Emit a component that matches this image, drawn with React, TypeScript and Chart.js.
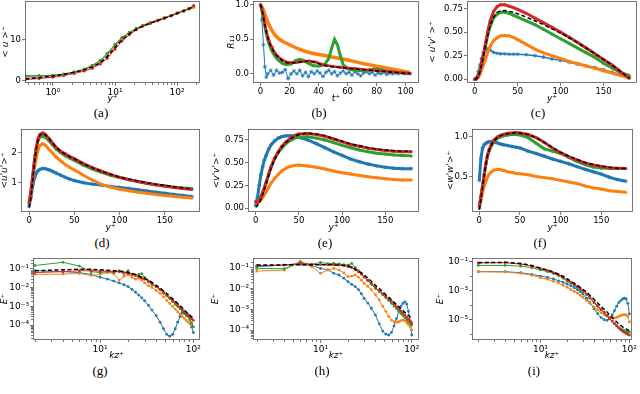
import React, { useEffect, useRef } from "react";
import { Chart, registerables } from "chart.js";

Chart.register(...registerables);
Chart.defaults.font.family = "'DejaVu Sans', sans-serif";

const BLUE = "#1f77b4";
const ORANGE = "#ff7f0e";
const GREEN = "#2ca02c";
const RED = "#d62728";
const BLACK = "#000000";

// ---------------- (a) mean velocity ----------------
const aYPlus = [0.36, 0.6, 1.0, 1.5, 2.2, 3.2, 4.3, 5.8, 7.5, 10, 13, 17, 22, 28, 37, 48, 62, 80, 100, 128, 155, 185];
const aBlack = [0.4, 0.7, 1.1, 1.5, 2.0, 2.6, 3.3, 4.3, 5.8, 8.0, 9.9, 11.3, 12.4, 13.2, 13.9, 14.5, 15.1, 15.7, 16.3, 16.9, 17.4, 17.9];
const aGreen = [1.2, 1.2, 1.3, 1.6, 2.1, 2.8, 3.7, 4.9, 6.6, 8.8, 10.5, 11.7, 12.7, 13.4, 14.0, 14.6, 15.2, 15.8, 16.4, 17.0, 17.5, 18.0];
const aRed = [0.2, 0.5, 0.8, 1.2, 1.7, 2.3, 3.0, 4.0, 5.4, 7.6, 9.6, 11.1, 12.3, 13.2, 13.9, 14.5, 15.1, 15.7, 16.3, 16.9, 17.5, 18.2];
const aBlue = [1.0, 1.1, 1.2, 1.5, 2.0, 2.7, 3.6, 4.8, 6.4, 8.6, 10.3, 11.5, 12.5, 13.3, 13.9, 14.5, 15.1, 15.7, 16.3, 16.9, 17.4, 17.9];
const aOrange = [0.6, 0.8, 1.1, 1.5, 2.0, 2.6, 3.4, 4.5, 6.1, 8.3, 10.2, 11.5, 12.6, 13.4, 14.1, 14.7, 15.3, 15.8, 16.4, 16.9, 17.3, 17.7];

// ---------------- (b) autocorrelation R11 ----------------
const bT = [0, 1, 2, 3, 4, 5, 6, 8, 10, 12, 15, 18, 21, 25, 30, 34, 38, 42, 46, 50, 55, 60, 65, 70, 75, 80, 85, 90, 95, 100, 103];
const bBlack = [1.0, 0.93, 0.82, 0.7, 0.6, 0.52, 0.45, 0.36, 0.29, 0.24, 0.19, 0.16, 0.155, 0.16, 0.18, 0.18, 0.16, 0.13, 0.11, 0.1, 0.09, 0.08, 0.07, 0.06, 0.05, 0.04, 0.035, 0.025, 0.015, 0.008, 0.005];
const bRed = [1.0, 0.93, 0.83, 0.72, 0.62, 0.54, 0.47, 0.38, 0.3, 0.25, 0.2, 0.17, 0.16, 0.165, 0.18, 0.185, 0.17, 0.14, 0.12, 0.105, 0.095, 0.085, 0.075, 0.065, 0.055, 0.045, 0.038, 0.028, 0.018, 0.01, 0.005];
const bGreenT = [0, 1, 2, 3, 4, 5, 6, 8, 10, 12, 15, 18, 21, 24, 27, 30, 33, 36, 40, 44, 47, 49, 51, 53, 55, 57, 60, 65, 70, 75, 78, 80, 83, 86, 90, 95, 100, 103];
const bGreen = [1.0, 0.92, 0.8, 0.68, 0.58, 0.49, 0.42, 0.32, 0.25, 0.2, 0.15, 0.13, 0.14, 0.19, 0.21, 0.19, 0.15, 0.12, 0.11, 0.13, 0.22, 0.37, 0.5, 0.42, 0.26, 0.13, 0.07, 0.05, 0.045, 0.05, 0.07, 0.07, 0.06, 0.04, 0.03, 0.02, 0.01, 0.005];
const bOrangeT = [0, 1, 2, 3, 4, 6, 8, 10, 13, 16, 20, 25, 30, 35, 40, 45, 50, 55, 60, 65, 70, 75, 80, 85, 90, 95, 100, 103];
const bOrange = [1.0, 0.97, 0.92, 0.86, 0.8, 0.7, 0.62, 0.56, 0.5, 0.46, 0.42, 0.37, 0.33, 0.3, 0.28, 0.26, 0.24, 0.22, 0.2, 0.175, 0.15, 0.13, 0.11, 0.09, 0.07, 0.05, 0.03, 0.02];
const bBlueT = [0, 1, 2, 3, 4, 5, 7, 9, 11, 13, 15, 17, 19, 21, 23, 25, 27, 29, 31, 33, 35, 37, 39, 41, 43, 45, 47, 49, 51, 53, 55, 57, 59, 61, 63, 65, 67, 69, 71, 73, 75, 77, 79, 81, 83, 85, 87, 89, 91, 93, 95, 97, 99, 101, 103];
const bBlue = [1.0, 0.78, 0.42, 0.1, -0.05, 0.0, 0.05, -0.02, 0.05, 0.01, 0.02, 0.06, -0.07, 0.0, 0.04, 0.0, 0.05, -0.03, 0.02, -0.04, 0.03, 0.0, 0.04, 0.01, -0.04, 0.02, 0.05, 0.0, 0.03, -0.03, 0.01, 0.04, 0.0, 0.02, -0.02, 0.03, 0.0, -0.03, 0.01, 0.03, 0.0, 0.02, -0.02, 0.01, 0.0, 0.02, -0.01, 0.01, 0.0, 0.01, 0.0, 0.01, 0.0, 0.005, 0.0];

// ---------------- (c)-(f) Reynolds stresses vs y+ ----------------
const yPlus = [0, 2, 4, 6, 8, 10, 12, 15, 18, 22, 26, 30, 35, 40, 45, 50, 60, 70, 80, 90, 100, 110, 120, 130, 140, 150, 160, 170, 180];

const cRed = [0, 0.005, 0.03, 0.08, 0.16, 0.26, 0.35, 0.5, 0.62, 0.72, 0.77, 0.79, 0.79, 0.775, 0.76, 0.74, 0.7, 0.65, 0.6, 0.55, 0.5, 0.445, 0.39, 0.33, 0.27, 0.21, 0.15, 0.08, 0.01];
const cBlack = [0, 0.005, 0.03, 0.08, 0.15, 0.24, 0.33, 0.46, 0.57, 0.66, 0.71, 0.725, 0.73, 0.72, 0.71, 0.695, 0.66, 0.62, 0.58, 0.535, 0.49, 0.44, 0.385, 0.33, 0.27, 0.21, 0.15, 0.08, 0.01];
const cGreen = [0, 0.01, 0.04, 0.1, 0.17, 0.25, 0.33, 0.46, 0.56, 0.65, 0.69, 0.71, 0.71, 0.7, 0.68, 0.66, 0.62, 0.58, 0.53, 0.48, 0.43, 0.38, 0.33, 0.28, 0.23, 0.17, 0.12, 0.07, 0.04];
const cOrange = [0, 0.0, 0.02, 0.05, 0.1, 0.15, 0.2, 0.28, 0.35, 0.41, 0.44, 0.46, 0.465, 0.46, 0.445, 0.42, 0.37, 0.32, 0.28, 0.25, 0.22, 0.19, 0.165, 0.14, 0.115, 0.09, 0.065, 0.04, 0.015];
const cBlue = [0, 0.02, 0.08, 0.15, 0.22, 0.28, 0.31, 0.32, 0.31, 0.285, 0.275, 0.27, 0.27, 0.265, 0.265, 0.265, 0.26, 0.25, 0.235, 0.215, 0.2, 0.18, 0.16, 0.14, 0.125, 0.1, 0.075, 0.05, 0.025];

const dRed = [0.3, 0.65, 1.2, 1.75, 2.2, 2.48, 2.62, 2.67, 2.62, 2.48, 2.33, 2.18, 2.05, 1.96, 1.87, 1.8, 1.63, 1.5, 1.38, 1.27, 1.17, 1.1, 1.03, 0.97, 0.92, 0.88, 0.83, 0.79, 0.76];
const dBlack = [0.15, 0.5, 1.1, 1.7, 2.15, 2.45, 2.6, 2.65, 2.6, 2.47, 2.32, 2.17, 2.04, 1.95, 1.86, 1.79, 1.62, 1.49, 1.37, 1.27, 1.18, 1.11, 1.05, 0.99, 0.94, 0.9, 0.85, 0.81, 0.78];
const dGreen = [0.3, 0.7, 1.25, 1.8, 2.2, 2.42, 2.53, 2.56, 2.52, 2.4, 2.26, 2.12, 2.0, 1.9, 1.82, 1.74, 1.58, 1.45, 1.34, 1.24, 1.16, 1.09, 1.03, 0.97, 0.92, 0.88, 0.84, 0.81, 0.79];
const dOrange = [0.35, 0.7, 1.1, 1.5, 1.85, 2.1, 2.25, 2.3, 2.25, 2.12, 1.98, 1.85, 1.72, 1.6, 1.5, 1.42, 1.24, 1.08, 0.93, 0.84, 0.77, 0.72, 0.67, 0.63, 0.59, 0.56, 0.53, 0.5, 0.47];
const dBlue = [0.2, 0.5, 0.9, 1.15, 1.32, 1.4, 1.44, 1.47, 1.46, 1.42, 1.37, 1.31, 1.24, 1.17, 1.11, 1.06, 0.99, 0.94, 0.91, 0.86, 0.83, 0.79, 0.75, 0.71, 0.67, 0.63, 0.59, 0.555, 0.52];

const eRed = [0.08, 0.06, 0.08, 0.12, 0.17, 0.22, 0.28, 0.37, 0.46, 0.55, 0.62, 0.68, 0.73, 0.77, 0.8, 0.815, 0.82, 0.81, 0.79, 0.76, 0.73, 0.7, 0.68, 0.66, 0.645, 0.635, 0.625, 0.62, 0.62];
const eBlack = [0.01, 0.03, 0.06, 0.1, 0.15, 0.21, 0.27, 0.36, 0.45, 0.54, 0.61, 0.67, 0.72, 0.76, 0.79, 0.81, 0.825, 0.815, 0.795, 0.765, 0.735, 0.705, 0.685, 0.665, 0.65, 0.64, 0.63, 0.625, 0.625];
const eGreen = [0.07, 0.07, 0.09, 0.13, 0.18, 0.23, 0.29, 0.38, 0.46, 0.55, 0.61, 0.66, 0.71, 0.745, 0.77, 0.78, 0.785, 0.77, 0.75, 0.72, 0.69, 0.665, 0.64, 0.62, 0.605, 0.595, 0.585, 0.58, 0.575];
const eOrange = [0.07, 0.06, 0.07, 0.09, 0.12, 0.15, 0.18, 0.23, 0.28, 0.33, 0.37, 0.41, 0.44, 0.46, 0.47, 0.475, 0.465, 0.45, 0.43, 0.41, 0.39, 0.375, 0.36, 0.345, 0.335, 0.325, 0.315, 0.31, 0.31];
const eBlue = [0.03, 0.12, 0.25, 0.37, 0.46, 0.53, 0.58, 0.65, 0.7, 0.74, 0.77, 0.785, 0.795, 0.795, 0.79, 0.78, 0.75, 0.71, 0.665, 0.62, 0.58, 0.54, 0.51, 0.485, 0.465, 0.45, 0.44, 0.435, 0.435];

const fRed = [0.12, 0.25, 0.38, 0.52, 0.66, 0.77, 0.84, 0.91, 0.96, 1.0, 1.02, 1.035, 1.045, 1.05, 1.055, 1.05, 1.03, 0.99, 0.93, 0.86, 0.8, 0.75, 0.71, 0.67, 0.645, 0.625, 0.61, 0.605, 0.6];
const fBlack = [0.08, 0.22, 0.37, 0.51, 0.65, 0.76, 0.83, 0.9, 0.95, 0.99, 1.015, 1.03, 1.04, 1.048, 1.052, 1.05, 1.03, 0.99, 0.93, 0.865, 0.805, 0.755, 0.715, 0.675, 0.65, 0.63, 0.615, 0.605, 0.6];
const fGreen = [0.1, 0.24, 0.38, 0.52, 0.65, 0.75, 0.82, 0.89, 0.94, 0.98, 1.0, 1.015, 1.025, 1.03, 1.03, 1.025, 0.99, 0.92, 0.85, 0.82, 0.79, 0.74, 0.69, 0.65, 0.62, 0.605, 0.6, 0.6, 0.6];
const fOrange = [0.1, 0.2, 0.3, 0.38, 0.44, 0.49, 0.53, 0.56, 0.58, 0.59, 0.585, 0.575, 0.56, 0.55, 0.54, 0.535, 0.52, 0.5, 0.485, 0.47, 0.45, 0.43, 0.41, 0.38, 0.355, 0.34, 0.32, 0.31, 0.3];
const fBlue = [0.45, 0.73, 0.86, 0.9, 0.92, 0.93, 0.94, 0.94, 0.935, 0.925, 0.91, 0.9, 0.89, 0.88, 0.87, 0.86, 0.82, 0.79, 0.755, 0.72, 0.69, 0.66, 0.625, 0.59, 0.56, 0.53, 0.49, 0.46, 0.44];

// ---------------- (g)-(i) spectra, values as log10(E+) ----------------
const kz = [2, 4, 6, 8, 10, 12, 14, 16, 18, 20, 22, 24, 26, 28, 30, 33, 36, 40, 44, 48, 52, 56, 60, 64, 68, 72, 76, 80, 84, 88, 92, 96, 100];

const gBlackLog10 = [-1.1, -1.05, -1.02, -1.02, -1.05, -1.08, -1.1, -1.12, -1.15, -1.2, -1.25, -1.3, -1.38, -1.45, -1.5, -1.6, -1.72, -1.88, -2.02, -2.18, -2.32, -2.47, -2.6, -2.72, -2.85, -2.97, -3.08, -3.2, -3.3, -3.4, -3.48, -3.56, -3.64];
const gRedLog10 = [-1.2, -1.15, -1.1, -1.1, -1.12, -1.12, -1.15, -1.15, -1.2, -1.25, -1.3, -1.35, -1.42, -1.5, -1.55, -1.65, -1.78, -1.95, -2.1, -2.25, -2.4, -2.55, -2.68, -2.8, -2.93, -3.05, -3.17, -3.3, -3.4, -3.5, -3.58, -3.66, -3.75];
const gGreenLog10 = [-0.82, -0.65, -0.85, -1.15, -1.2, -1.15, -1.2, -1.1, -1.25, -1.1, -1.3, -1.35, -1.3, -1.25, -1.45, -1.7, -1.85, -1.95, -2.1, -2.3, -2.45, -2.6, -2.75, -2.9, -3.0, -3.15, -3.25, -3.4, -3.5, -3.55, -3.7, -3.9, -4.1];
const gOrangeLog10 = [-1.3, -1.28, -1.25, -1.35, -1.3, -1.2, -1.25, -1.6, -1.4, -1.3, -1.45, -1.55, -1.5, -1.6, -1.75, -1.9, -2.0, -2.15, -2.3, -2.5, -2.7, -2.85, -3.0, -3.15, -3.3, -3.4, -3.55, -3.65, -3.75, -3.85, -3.95, -4.0, -4.1];
const gBlueLog10 = [-1.1, -1.15, -1.2, -1.3, -1.45, -1.55, -1.65, -1.75, -1.85, -1.95, -2.1, -2.25, -2.4, -2.55, -2.7, -2.95, -3.2, -3.5, -3.85, -4.2, -4.5, -4.6, -4.5, -4.2, -3.85, -3.55, -3.35, -3.3, -3.35, -3.45, -3.7, -4.1, -4.4];

const hBlackLog10 = [-0.87, -0.86, -0.85, -0.85, -0.85, -0.86, -0.86, -0.87, -0.88, -0.9, -0.97, -1.05, -1.15, -1.25, -1.35, -1.5, -1.65, -1.85, -2.0, -2.15, -2.3, -2.42, -2.55, -2.66, -2.78, -2.88, -2.98, -3.06, -3.15, -3.23, -3.3, -3.37, -3.44];
const hRedLog10 = [-0.9, -0.87, -0.79, -0.84, -0.84, -0.85, -0.86, -0.87, -0.9, -0.95, -1.0, -1.1, -1.2, -1.3, -1.45, -1.6, -1.75, -1.95, -2.1, -2.25, -2.38, -2.5, -2.62, -2.75, -2.87, -2.98, -3.08, -3.18, -3.28, -3.38, -3.47, -3.56, -3.66];
const hGreenLog10 = [-1.03, -1.05, -0.74, -0.84, -0.74, -0.8, -0.79, -0.82, -0.85, -0.87, -0.79, -1.0, -1.15, -1.3, -1.45, -1.62, -1.8, -2.0, -2.15, -2.3, -2.45, -2.58, -2.72, -2.85, -2.97, -3.08, -3.2, -3.3, -3.4, -3.5, -3.6, -3.68, -3.76];
const hOrangeLog10 = [-1.16, -1.11, -0.68, -0.95, -1.27, -1.11, -1.03, -1.11, -1.25, -1.43, -1.4, -1.35, -1.45, -1.6, -1.75, -1.9, -2.05, -2.3, -2.55, -2.85, -3.1, -3.35, -3.52, -3.6, -3.62, -3.6, -3.55, -3.52, -3.55, -3.65, -3.75, -3.85, -4.0];
const hBlueLog10 = [-0.95, -0.87, -0.84, -0.9, -1.03, -1.1, -1.27, -1.35, -1.5, -1.67, -1.8, -1.91, -2.05, -2.25, -2.48, -2.7, -2.95, -3.28, -3.7, -4.05, -4.2, -4.24, -4.11, -3.8, -3.45, -3.1, -2.85, -2.72, -2.64, -2.75, -3.1, -3.6, -4.24];

const iBlackLog10 = [-1.1, -1.08, -1.15, -1.3, -1.48, -1.6, -1.75, -1.9, -2.05, -2.22, -2.37, -2.52, -2.66, -2.8, -2.93, -3.13, -3.35, -3.62, -3.88, -4.1, -4.3, -4.5, -4.7, -4.87, -5.03, -5.18, -5.3, -5.42, -5.52, -5.6, -5.66, -5.72, -5.78];
const iRedLog10 = [-1.12, -1.1, -1.2, -1.34, -1.52, -1.65, -1.8, -1.95, -2.1, -2.3, -2.45, -2.6, -2.75, -2.9, -3.03, -3.25, -3.5, -3.8, -4.05, -4.3, -4.5, -4.72, -4.95, -5.12, -5.3, -5.45, -5.6, -5.72, -5.82, -5.9, -5.97, -6.03, -6.08];
const iGreenLog10 = [-1.29, -1.29, -1.34, -1.45, -1.6, -1.72, -1.85, -2.0, -2.18, -2.38, -2.52, -2.65, -2.8, -2.95, -3.1, -3.3, -3.55, -3.87, -4.12, -4.35, -4.55, -4.75, -4.97, -5.12, -5.3, -5.42, -5.55, -5.65, -5.72, -5.78, -5.82, -5.85, -5.88];
const iOrangeLog10 = [-1.72, -1.75, -1.84, -1.97, -2.13, -2.25, -2.38, -2.5, -2.65, -2.8, -2.95, -3.08, -3.2, -3.35, -3.49, -3.7, -3.9, -4.16, -4.35, -4.55, -4.68, -4.78, -4.84, -4.88, -4.9, -4.87, -4.8, -4.73, -4.7, -4.68, -4.7, -4.8, -5.18];
const iBlueLog10 = [-1.72, -1.72, -1.79, -1.9, -2.02, -2.12, -2.22, -2.35, -2.45, -2.58, -2.7, -2.82, -2.96, -3.1, -3.26, -3.55, -3.85, -4.28, -4.6, -4.88, -5.02, -5.07, -4.95, -4.7, -4.4, -4.1, -3.85, -3.71, -3.6, -3.55, -3.6, -3.9, -4.62];

// tick labels
const logXLabels3 = ["10⁰", "10¹", "10²"];
const logKLabels = ["10¹", "10²"];
const stressXLabels = ["0", "50", "100", "150"];
const bXLabels = ["0", "20", "40", "60", "80", "100"];
const eLabelsGH = ["10⁻⁴", "10⁻³", "10⁻²", "10⁻¹"];
const eLabelsI = ["10⁻⁵", "10⁻³", "10⁻¹"];

// ---------------- helpers ----------------
type Ser = { x: number[]; y: number[]; color: string; width: number; radius: number; style: string; dash: number[] };
const S = (x: number[], y: number[], color: string, width: number, radius: number, style = "circle", dash: number[] = []): Ser => ({ x, y, color, width, radius, style, dash });
const pow10 = (arr: number[]) => arr.map((v) => Math.pow(10, v));
const DASH = [4, 2.5];

type AxisDef = { type: "linear" | "logarithmic"; min: number; max: number; ticks: number[]; labels: string[]; title: string; minor?: "subs" | "decades" };
type PanelDef = { plot: [number, number, number, number]; canvasLeft: number; x: AxisDef; y: AxisDef; series: Ser[]; label: string; labelAt: [number, number] };

const stressSeries = (bk: number[], rd: number[], gr: number[], or: number[], bl: number[], blueW: number) => [
  S(yPlus, bk, BLACK, 1.5, 0, "circle", DASH),
  S(yPlus, rd, RED, 3, 1.5),
  S(yPlus, gr, GREEN, 3, 1.5),
  S(yPlus, or, ORANGE, 3, 1.5),
  S(yPlus, bl, BLUE, blueW, 2, "star"),
];
const specSeries = (bk: number[], rd: number[], gr: number[], or: number[], bl: number[]) => [
  S(kz, pow10(bk), BLACK, 1.5, 0, "circle", DASH),
  S(kz, pow10(rd), RED, 1, 1.4),
  S(kz, pow10(gr), GREEN, 1, 1.4),
  S(kz, pow10(or), ORANGE, 1, 1.4),
  S(kz, pow10(bl), BLUE, 1, 1.4),
];

const stressX: AxisDef = { type: "linear", min: -9, max: 189, ticks: [0, 50, 100, 150], labels: stressXLabels, title: "y⁺" };

const PANELS: PanelDef[] = [
  {
    plot: [25, 1, 200, 83], canvasLeft: 0,
    x: { type: "logarithmic", min: 0.355, max: 234, ticks: [1, 10, 100], labels: logXLabels3, title: "y⁺", minor: "subs" },
    y: { type: "linear", min: -0.6, max: 19.3, ticks: [0, 10], labels: ["0", "10"], title: "< u >⁺" },
    series: [
      S(aYPlus, aBlack, BLACK, 1.5, 0, "circle", DASH),
      S(aYPlus, aRed, RED, 1, 1.5),
      S(aYPlus, aGreen, GREEN, 1, 1.5),
      S(aYPlus, aOrange, ORANGE, 1, 1.5),
      S(aYPlus, aBlue, BLUE, 1, 1.5),
    ],
    label: "(a)", labelAt: [101, 113],
  },
  {
    plot: [253, 1, 419, 83], canvasLeft: 226,
    x: { type: "linear", min: -5.2, max: 109.2, ticks: [0, 20, 40, 60, 80, 100], labels: bXLabels, title: "t⁺" },
    y: { type: "linear", min: -0.134, max: 1.054, ticks: [0, 0.5, 1.0], labels: ["0.0", "0.5", "1.0"], title: "R₁₁" },
    series: [
      S(bT, bBlack, BLACK, 1.5, 0, "circle", DASH),
      S(bT, bRed, RED, 2.5, 1.6),
      S(bGreenT, bGreen, GREEN, 3, 0),
      S(bOrangeT, bOrange, ORANGE, 3.5, 0),
      S(bBlueT, bBlue, BLUE, 1, 2, "star"),
    ],
    label: "(b)", labelAt: [319, 113],
  },
  {
    plot: [467, 1, 637, 83], canvasLeft: 427,
    x: stressX,
    y: { type: "linear", min: -0.04, max: 0.83, ticks: [0, 0.25, 0.5, 0.75], labels: ["0.00", "0.25", "0.50", "0.75"], title: "< u'v' >⁺" },
    series: stressSeries(cBlack, cRed, cGreen, cOrange, cBlue, 1.5),
    label: "(c)", labelAt: [538, 113],
  },
  {
    plot: [21, 129, 200, 212], canvasLeft: -1,
    x: stressX,
    y: { type: "linear", min: 0.0, max: 2.8, ticks: [1, 2], labels: ["1", "2"], title: "<u'u'>⁺" },
    series: stressSeries(dBlack, dRed, dGreen, dOrange, dBlue, 3),
    label: "(d)", labelAt: [102, 243],
  },
  {
    plot: [248, 129, 419, 212], canvasLeft: 211,
    x: stressX,
    y: { type: "linear", min: -0.041, max: 0.87, ticks: [0, 0.25, 0.5, 0.75], labels: ["0.00", "0.25", "0.50", "0.75"], title: "<v'v'>⁺" },
    series: stressSeries(eBlack, eRed, eGreen, eOrange, eBlue, 3),
    label: "(e)", labelAt: [325, 243],
  },
  {
    plot: [472, 129, 633, 212], canvasLeft: 445,
    x: stressX,
    y: { type: "linear", min: 0.05, max: 1.1, ticks: [0.5, 1.0], labels: ["0.5", "1.0"], title: "<w'w'>⁺" },
    series: stressSeries(fBlack, fRed, fGreen, fOrange, fBlue, 3),
    label: "(f)", labelAt: [540, 243],
  },
  {
    plot: [33, 258, 200, 340], canvasLeft: -1,
    x: { type: "logarithmic", min: 1.905, max: 118, ticks: [10, 100], labels: logKLabels, title: "kz⁺", minor: "subs" },
    y: { type: "logarithmic", min: Math.pow(10, -4.8), max: Math.pow(10, -0.42), ticks: [1e-4, 1e-3, 1e-2, 1e-1], labels: eLabelsGH, title: "E⁺", minor: "subs" },
    series: specSeries(gBlackLog10, gRedLog10, gGreenLog10, gOrangeLog10, gBlueLog10),
    label: "(g)", labelAt: [100, 371],
  },
  {
    plot: [253, 258, 419, 340], canvasLeft: 210,
    x: { type: "logarithmic", min: 1.82, max: 120, ticks: [10, 100], labels: logKLabels, title: "kz⁺", minor: "subs" },
    y: { type: "logarithmic", min: Math.pow(10, -4.48), max: Math.pow(10, -0.53), ticks: [1e-4, 1e-3, 1e-2, 1e-1], labels: eLabelsGH, title: "E⁺", minor: "subs" },
    series: specSeries(hBlackLog10, hRedLog10, hGreenLog10, hOrangeLog10, hBlueLog10),
    label: "(h)", labelAt: [322, 371],
  },
  {
    plot: [472, 258, 632, 340], canvasLeft: 435,
    x: { type: "logarithmic", min: 1.7, max: 107, ticks: [10, 100], labels: logKLabels, title: "kz⁺", minor: "subs" },
    y: { type: "logarithmic", min: Math.pow(10, -6.42), max: Math.pow(10, -0.78), ticks: [1e-5, 1e-3, 1e-1], labels: eLabelsI, title: "E⁺", minor: "decades" },
    series: specSeries(iBlackLog10, iRedLog10, iGreenLog10, iOrangeLog10, iBlueLog10),
    label: "(i)", labelAt: [534, 371],
  },
];

const PAD_T = 8;
const PAD_R = 14;
const X_H = 21;
const FRAME = "#555";

function makeFramePlugin(def: PanelDef) {
  return {
    id: "frameMinor",
    afterDraw(chart: any) {
      const { ctx, chartArea: a, scales } = chart;
      ctx.save();
      ctx.strokeStyle = FRAME;
      ctx.lineWidth = 0.8;
      const xs = scales.x;
      const ys = scales.y;
      const minorVals = (sc: any, mode?: string) => {
        const out: number[] = [];
        if (!mode) return out;
        const d0 = Math.floor(Math.log10(sc.min));
        const d1 = Math.ceil(Math.log10(sc.max));
        for (let d = d0; d <= d1; d++) {
          if (mode === "subs") {
            for (let m = 2; m <= 9; m++) out.push(m * Math.pow(10, d));
          } else {
            out.push(Math.pow(10, d));
          }
        }
        return out.filter((v) => v >= sc.min && v <= sc.max);
      };
      minorVals(xs, def.x.minor).forEach((v) => {
        const px = Math.round(xs.getPixelForValue(v)) + 0.5;
        ctx.beginPath();
        ctx.moveTo(px, a.bottom);
        ctx.lineTo(px, a.bottom + 2);
        ctx.stroke();
      });
      minorVals(ys, def.y.minor).forEach((v) => {
        const py = Math.round(ys.getPixelForValue(v)) + 0.5;
        ctx.beginPath();
        ctx.moveTo(a.left, py);
        ctx.lineTo(a.left - 2, py);
        ctx.stroke();
      });
      ctx.strokeRect(Math.round(a.left) + 0.5, Math.round(a.top) + 0.5, Math.round(a.right - a.left) - 1, Math.round(a.bottom - a.top) - 1);
      ctx.restore();
    },
  };
}

function Panel({ def }: { def: PanelDef }) {
  const ref = useRef<HTMLCanvasElement>(null);
  const [L, T, R, B] = def.plot;
  const yW = L - def.canvasLeft;
  const w = yW + (R - L) + PAD_R;
  const h = PAD_T + (B - T) + X_H;

  useEffect(() => {
    const axis = (a: AxisDef, horiz: boolean) => ({
      type: a.type,
      min: a.min,
      max: a.max,
      bounds: "data",
      afterBuildTicks: (sc: any) => {
        sc.ticks = a.ticks.map((v) => ({ value: v }));
      },
      afterFit: (sc: any) => {
        if (horiz) sc.height = X_H;
        else sc.width = yW;
      },
      ticks: {
        autoSkip: false,
        maxRotation: 0,
        minRotation: 0,
        padding: horiz ? 1 : 1,
        color: "#000",
        font: { size: a.type === "logarithmic" ? 9 : 8.5 },
        callback: (_v: any, i: number) => a.labels[i],
      },
      grid: { display: true, drawOnChartArea: false, drawTicks: true, tickLength: 3, tickWidth: 0.8, tickColor: FRAME, color: FRAME },
      border: { display: false },
      title: { display: true, text: a.title, color: "#000", padding: 0, font: { size: 9, style: "italic" } },
    });

    const chart = new Chart(ref.current as HTMLCanvasElement, {
      type: "line",
      data: {
        datasets: def.series.map((s) => ({
          data: s.x.map((xv, i) => ({ x: xv, y: s.y[i] })),
          borderColor: s.color,
          backgroundColor: s.color,
          borderWidth: s.width,
          borderDash: s.dash,
          pointRadius: s.radius,
          pointStyle: s.style as any,
          pointBorderWidth: s.style === "circle" ? 0 : 0.8,
          pointBackgroundColor: s.color,
          pointBorderColor: s.color,
          tension: 0,
          fill: false,
        })),
      },
      options: {
        responsive: false,
        animation: false,
        devicePixelRatio: 1,
        events: [],
        layout: { padding: { left: 0, top: PAD_T, right: PAD_R, bottom: 0 } },
        plugins: { legend: { display: false }, tooltip: { enabled: false } },
        scales: { x: axis(def.x, true) as any, y: axis(def.y, false) as any },
      },
      plugins: [makeFramePlugin(def)],
    });
    return () => chart.destroy();
  }, [def]);

  return (
    <canvas
      ref={ref}
      width={w}
      height={h}
      style={{ position: "absolute", left: def.canvasLeft, top: T - PAD_T, width: w, height: h }}
    />
  );
}

export default function App() {
  return (
    <div style={{ position: "absolute", left: 0, top: 0, width: 640, height: 394, overflow: "hidden", background: "#fff" }}>
      {PANELS.map((p) => (
        <Panel key={p.label} def={p} />
      ))}
      {PANELS.map((p) => (
        <div
          key={"l" + p.label}
          style={{
            position: "absolute",
            left: p.labelAt[0],
            top: p.labelAt[1],
            transform: "translate(-50%, -50%)",
            fontFamily: "'Liberation Serif', serif",
            fontSize: 13,
            lineHeight: "14px",
            color: "#000",
            whiteSpace: "nowrap",
          }}
        >
          {p.label}
        </div>
      ))}
    </div>
  );
}
